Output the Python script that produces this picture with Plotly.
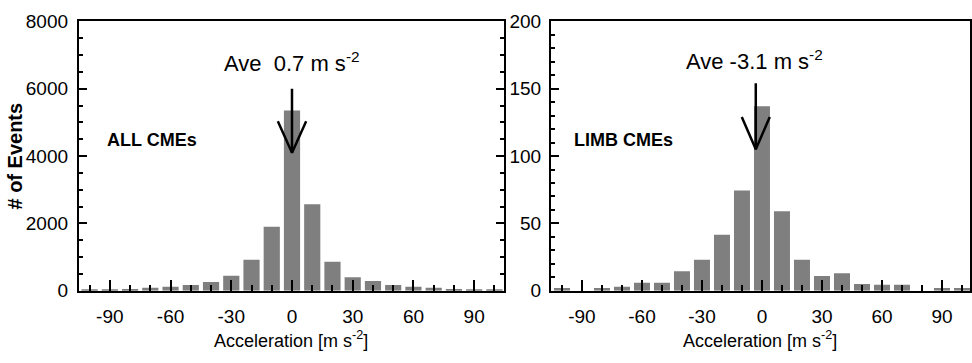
import plotly.graph_objects as go

# ---- data ----
bin_centers = [-100, -90, -80, -70, -60, -50, -40, -30, -20, -10, 0, 10, 20, 30, 40, 50, 60, 70, 80, 90, 100]
all_counts = [15, 30, 50, 90, 120, 170, 260, 450, 920, 1900, 5350, 2570, 860, 400, 290, 170, 120, 90, 55, 45, 20]
limb_counts = [2, 0, 2, 3, 6, 6, 14.5, 23, 41.5, 74.5, 137, 59, 23, 11, 13, 5, 4.5, 4.5, 0, 2, 2]

all_label = "ALL CMEs"
limb_label = "LIMB CMEs"
all_ave_text = "Ave  0.7 m s<sup>-2</sup>"
limb_ave_text = "Ave -3.1 m s<sup>-2</sup>"
x_title = "Acceleration [m s<sup>-2</sup>]"
y_title = "# of Events"

# arrow data: x position, top of shaft, tip, wing y, wing half width (data units)
all_arrow = dict(x=0, top=6000, tip=4100, wing=5030, half=7)
limb_arrow = dict(x=-3.1, top=154, tip=105, wing=129, half=7)

xtick_vals = [-90, -60, -30, 0, 30, 60, 90]
xtick_text = ["-90", "-60", "-30", "0", "30", "60", "90"]
ytick_all = [0, 2000, 4000, 6000, 8000]
ytick_limb = [0, 50, 100, 150, 200]

FONT = "Liberation Sans, Arial, sans-serif"
BAR_COLOR = "#7f7f7f"

fig = go.Figure()

fig.add_trace(go.Bar(x=bin_centers, y=all_counts, marker=dict(color=BAR_COLOR, line=dict(width=0)),
                     xaxis="x", yaxis="y", showlegend=False))
fig.add_trace(go.Bar(x=bin_centers, y=limb_counts, marker=dict(color=BAR_COLOR, line=dict(width=0)),
                     xaxis="x2", yaxis="y2", showlegend=False))


def arrow_trace(a, xa, ya):
    xs = [a["x"], a["x"], None, a["x"] - a["half"], a["x"], a["x"] + a["half"]]
    ys = [a["top"], a["tip"], None, a["wing"], a["tip"], a["wing"]]
    return go.Scatter(x=xs, y=ys, mode="lines", line=dict(color="black", width=2.5),
                      xaxis=xa, yaxis=ya, showlegend=False, hoverinfo="skip")


fig.add_trace(arrow_trace(all_arrow, "x", "y"))
fig.add_trace(arrow_trace(limb_arrow, "x2", "y2"))

tickfont = dict(family=FONT, size=19, color="black")

common_x = dict(
    tickmode="array", tickvals=xtick_vals, ticktext=xtick_text,
    ticks="inside", ticklen=11, tickwidth=2, tickcolor="black", ticklabelstandoff=7,
    minor=dict(dtick=10, tick0=0, ticks="inside", ticklen=6, tickwidth=2, tickcolor="black"),
    showline=True, linecolor="black", linewidth=2, mirror=True, showgrid=False, zeroline=False,
    tickfont=tickfont,
)

fig.update_layout(
    width=972, height=363,
    margin=dict(l=0, r=0, t=0, b=0),
    paper_bgcolor="white", plot_bgcolor="white",
    bargap=0.2,
    xaxis=dict(domain=[0.0813, 0.5195], range=[-105.3, 104.7], anchor="y", **common_x),
    xaxis2=dict(domain=[0.568, 1.0], range=[-105.5, 104.0], anchor="y2", **common_x),
    yaxis=dict(domain=[0.179, 0.967], range=[0, 8000], anchor="x",
               tickmode="array", tickvals=ytick_all,
               ticks="inside", ticklen=8, tickwidth=2, tickcolor="black", ticklabelstandoff=5,
               minor=dict(dtick=500, ticks="inside", ticklen=4, tickwidth=2, tickcolor="black"),
               showline=True, linecolor="black", linewidth=2, mirror="ticks",
               showgrid=False, zeroline=False, tickfont=tickfont),
    yaxis2=dict(domain=[0.179, 0.967], range=[0, 200], anchor="x2",
                tickmode="array", tickvals=ytick_limb,
                ticks="inside", ticklen=8, tickwidth=2, tickcolor="black", ticklabelstandoff=4,
                minor=dict(dtick=10, ticks="inside", ticklen=4, tickwidth=2, tickcolor="black"),
                showline=True, linecolor="black", linewidth=2, mirror=True,
                showgrid=False, zeroline=False, tickfont=tickfont),
    yaxis3=dict(domain=[0.179, 0.967], range=[0, 200], overlaying="y2", side="right", anchor="x2",
                tickmode="array", tickvals=ytick_limb, showticklabels=False,
                ticks="inside", ticklen=8, tickwidth=2, tickcolor="black",
                showline=False, showgrid=False, zeroline=False),
)

# axis titles
for xr in ["x domain", "x2 domain"]:
    fig.add_annotation(x=0.5, y=0.0, xref=xr, yref="paper", text=x_title, showarrow=False, borderpad=0,
                       font=dict(family=FONT, size=18, color="black"), xanchor="center", yanchor="bottom")
fig.add_annotation(x=0.016, y=0.573, xref="paper", yref="paper", text=y_title, showarrow=False, textangle=-90,
                   font=dict(family=FONT, size=20, color="black", weight="bold"),
                   xanchor="center", yanchor="middle")

fig.add_annotation(x=0, y=6800, xref="x", yref="y", text=all_ave_text, showarrow=False,
                   font=dict(family=FONT, size=22, color="black"), xanchor="center", yanchor="middle")
fig.add_annotation(x=-3.5, y=171, xref="x2", yref="y2", text=limb_ave_text, showarrow=False,
                   font=dict(family=FONT, size=22, color="black"), xanchor="center", yanchor="middle")
fig.add_annotation(x=-92.5, y=4475, xref="x", yref="y", text="<b>" + all_label + "</b>", showarrow=False,
                   font=dict(family=FONT, size=18, color="black"), xanchor="left", yanchor="middle")
fig.add_annotation(x=-95, y=112, xref="x2", yref="y2", text="<b>" + limb_label + "</b>", showarrow=False,
                   font=dict(family=FONT, size=18, color="black"), xanchor="left", yanchor="middle")

fig.write_html("out.html")
